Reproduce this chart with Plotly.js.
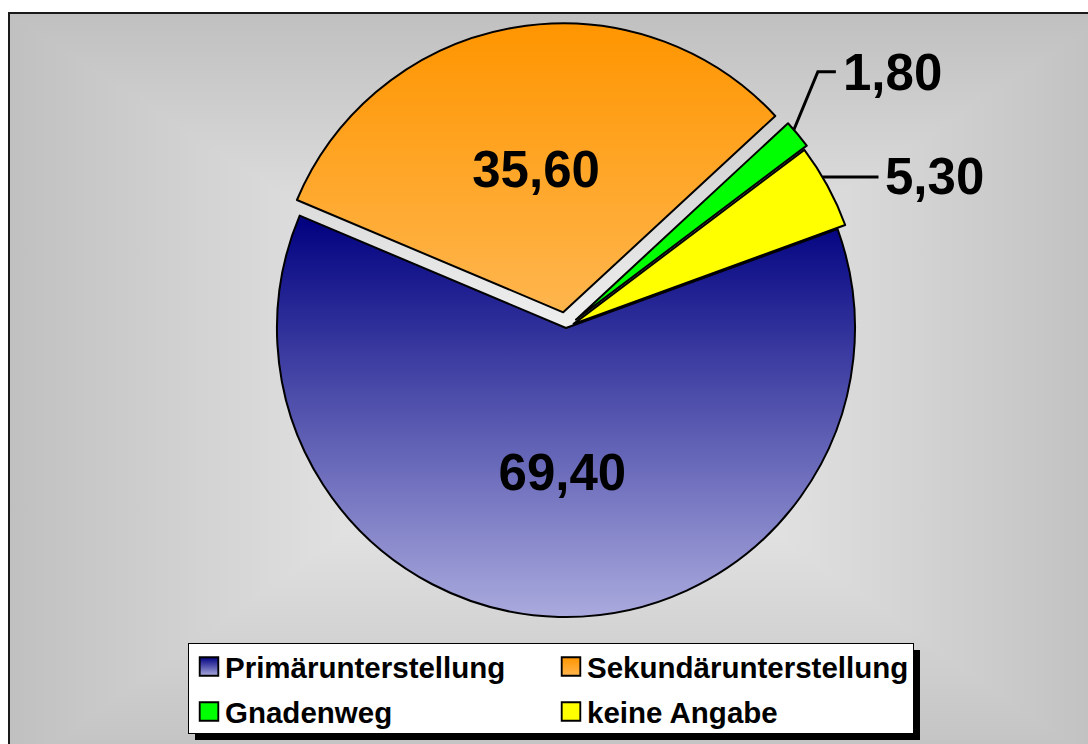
<!DOCTYPE html>
<html>
<head>
<meta charset="utf-8">
<script src="https://cdn.plot.ly/plotly-3.0.1.min.js"></script>
<style>
  html, body { margin:0; padding:0; background:#ffffff; width:1088px; height:744px; overflow:hidden; }
  #frame { position:absolute; left:8px; top:12px; width:1100px; height:760px;
    border-left:2px solid #1a1a1a; border-top:2px solid #1a1a1a;
    background: linear-gradient(to right, #c0c0c0 0%, #f6f6f6 50%, #c0c0c0 100%),
                linear-gradient(to bottom, #c0c0c0 0%, #f6f6f6 48%, #c0c0c0 100%);
    background-blend-mode: darken; }
  #chart { position:absolute; left:0; top:0; width:1088px; height:744px; }
</style>
</head>
<body>
<div id="frame"></div>
<div id="chart"></div>
<script>
// ---- data ----
const categories = ['Primärunterstellung', 'Sekundärunterstellung', 'Gnadenweg', 'keine Angabe'];
const values = [69.40, 35.60, 1.80, 5.30];
const valueLabels = ['69,40', '35,60', '1,80', '5,30'];

// ---- styles ----
const sliceColors = ['#5a5aa6', '#ffa52a', '#00ff00', '#ffff00'];
const pulls = [0, 0.055, 0.045, 0.03];
const textPos = ['inside', 'inside', 'none', 'none'];
const FONT = 'Arial, "Liberation Sans", sans-serif';

const W = 1088, H = 744;
const M = { l: 180, r: 170, t: 0, b: 0 };
const gsW = W - M.l - M.r, gsH = H - M.t - M.b;
const domX = [0.046, 1], domY = [0.1493, 0.969];
const rotation = 70;

// pie geometry (same formulas the library uses) for the leader lines
const maxPull = Math.max(...pulls);
const boxW = gsW * (domX[1] - domX[0]), boxH = gsH * (domY[1] - domY[0]);
const R = Math.min(boxW, boxH) / 2 / (1 + maxPull);
const CX = M.l + gsW * (domX[0] + domX[1]) / 2;
const CY = M.t + gsH * (1 - domY[0]) - boxH / 2;
const total = values.reduce((a, b) => a + b, 0);
// point on the outer arc of slice i, at fraction frac of its sweep
function outerPoint(i, frac) {
  let cum = 0; for (let k = 0; k < i; k++) cum += values[k];
  const deg = Math.PI / 180;
  const mid = (rotation + (cum + values[i] / 2) / total * 360) * deg;
  const at = (rotation + (cum + values[i] * frac) / total * 360) * deg;
  const d = R * pulls[i];
  return [CX + d * Math.sin(mid) + R * Math.sin(at), CY - d * Math.cos(mid) - R * Math.cos(at)];
}
const px2x = x => (x - M.l) / gsW;
const px2y = y => 1 - (y - M.t) / gsH;

const shapes = [], annotations = [];
function leader(i, pts, labelPt) {
  let d = '';
  pts.forEach((p, k) => { d += (k ? ' L' : 'M') + px2x(p[0]) + ',' + px2y(p[1]); });
  shapes.push({ type: 'path', xref: 'paper', yref: 'paper', path: d,
    line: { color: '#000', width: 3 } });
  annotations.push({ xref: 'paper', yref: 'paper', x: px2x(labelPt[0]), y: px2y(labelPt[1]),
    xanchor: 'left', yanchor: 'middle', showarrow: false, text: valueLabels[i],
    font: { family: FONT, size: 51, color: '#000', weight: 700 } });
}
{
  const s = outerPoint(2, 0.3);
  const e1 = [s[0] + 24, s[1] - 58], e2 = [e1[0] + 18, e1[1]];
  leader(2, [s, e1, e2], [e2[0] + 5, e2[1] + 1]);
  const t = outerPoint(3, 0.38);
  const f = [t[0] + 56, t[1]];
  leader(3, [t, f], [f[0] + 5, f[1] + 0]);
}

const data = [{
  type: 'pie',
  labels: categories,
  values: values,
  text: valueLabels,
  textinfo: 'text',
  textposition: textPos,
  insidetextorientation: 'horizontal',
  insidetextfont: { family: FONT, size: 51, color: '#000', weight: 700 },
  sort: false,
  direction: 'clockwise',
  rotation: rotation,
  pull: pulls,
  marker: { colors: sliceColors, line: { color: '#000', width: 2 } },
  domain: { x: domX, y: domY },
  hoverinfo: 'none'
}];

const layout = {
  width: W, height: H,
  margin: M,
  paper_bgcolor: 'rgba(0,0,0,0)',
  plot_bgcolor: 'rgba(0,0,0,0)',
  separators: ',.',
  showlegend: true,
  legend: {
    orientation: 'h',
    x: px2x(188), xanchor: 'left',
    y: px2y(643), yanchor: 'top',
    bgcolor: '#ffffff', bordercolor: '#000', borderwidth: 1,
    entrywidth: 317, entrywidthmode: 'pixels',
    font: { family: FONT, size: 29.5, color: '#000', weight: 700 }
  },
  shapes: shapes,
  annotations: annotations
};

const gd = document.getElementById('chart');
Plotly.newPlot(gd, data, layout, { staticPlot: true, displayModeBar: false }).then(() => {
  const NS = 'http://www.w3.org/2000/svg';
  const svg = gd.querySelector('svg.main-svg');
  let defs = svg.querySelector('defs');
  if (!defs) { defs = document.createElementNS(NS, 'defs'); svg.insertBefore(defs, svg.firstChild); }
  function grad(id, c0, c1) {
    const g = document.createElementNS(NS, 'linearGradient');
    g.setAttribute('id', id);
    g.setAttribute('x1', '0'); g.setAttribute('y1', '0');
    g.setAttribute('x2', '0'); g.setAttribute('y2', '1');
    [[0, c0], [1, c1]].forEach(([o, c]) => {
      const s = document.createElementNS(NS, 'stop');
      s.setAttribute('offset', o); s.setAttribute('stop-color', c);
      g.appendChild(s);
    });
    defs.appendChild(g);
  }
  grad('gBlue', '#000080', '#aaaade');
  grad('gOrange', '#ff9500', '#ffb64e');
  const fills = ['url(#gBlue)', 'url(#gOrange)', null, null];
  gd.querySelectorAll('g.slice').forEach((g, i) => {
    const p = g.querySelector('path.surface');
    if (p && fills[i]) p.style.fill = fills[i];
    if (i === 1) {
      const t = g.querySelector('text.slicetext');
      if (t) t.setAttribute('transform', 'translate(0,12) ' + (t.getAttribute('transform') || ''));
    }
  });
  const bg = gd.querySelector('.legend rect.bg');
  const bgTop = bg ? bg.getBoundingClientRect().top : 0;
  const traces = Array.from(gd.querySelectorAll('.legend .traces'));
  const ys = traces.map(t => t.getBoundingClientRect().top);
  const rowTops = Array.from(new Set(ys.map(v => Math.round(v)))).sort((a, b) => a - b);
  const rows = traces.map(t => rowTops.indexOf(Math.round(t.getBoundingClientRect().top)));
  traces.forEach((t, i) => {
    const p = t.querySelector('.legendpoints path');
    if (p) {
      if (fills[i]) p.style.fill = fills[i];
      const old = p.getAttribute('transform') || '';
      p.setAttribute('transform', old + ' scale(1.55)');
      p.style.strokeWidth = '1.2px';
    }
    const txt = t.querySelector('text.legendtext');
    if (txt) txt.setAttribute('x', '36');
    const tb = (txt || t).getBoundingClientRect();
    const cur = (tb.top + tb.bottom) / 2 - bgTop;
    const want = rows[i] > 0 ? 69 : 24;
    const tr = t.getAttribute('transform') || 'translate(0,0)';
    const m = tr.match(/translate\(\s*([-\d.]+)[ ,]+([-\d.]+)\s*\)/);
    if (m) t.setAttribute('transform', 'translate(' + m[1] + ',' + (parseFloat(m[2]) + want - cur) + ')');
  });
  if (bg) {
    bg.setAttribute('height', '90');
    const sh = bg.cloneNode(true);
    sh.setAttribute('class', 'shadow');
    sh.style.fill = '#000'; sh.style.stroke = 'none';
    sh.setAttribute('transform', 'translate(6,6)');
    bg.parentNode.insertBefore(sh, bg);
  }
});
</script>
</body>
</html>
